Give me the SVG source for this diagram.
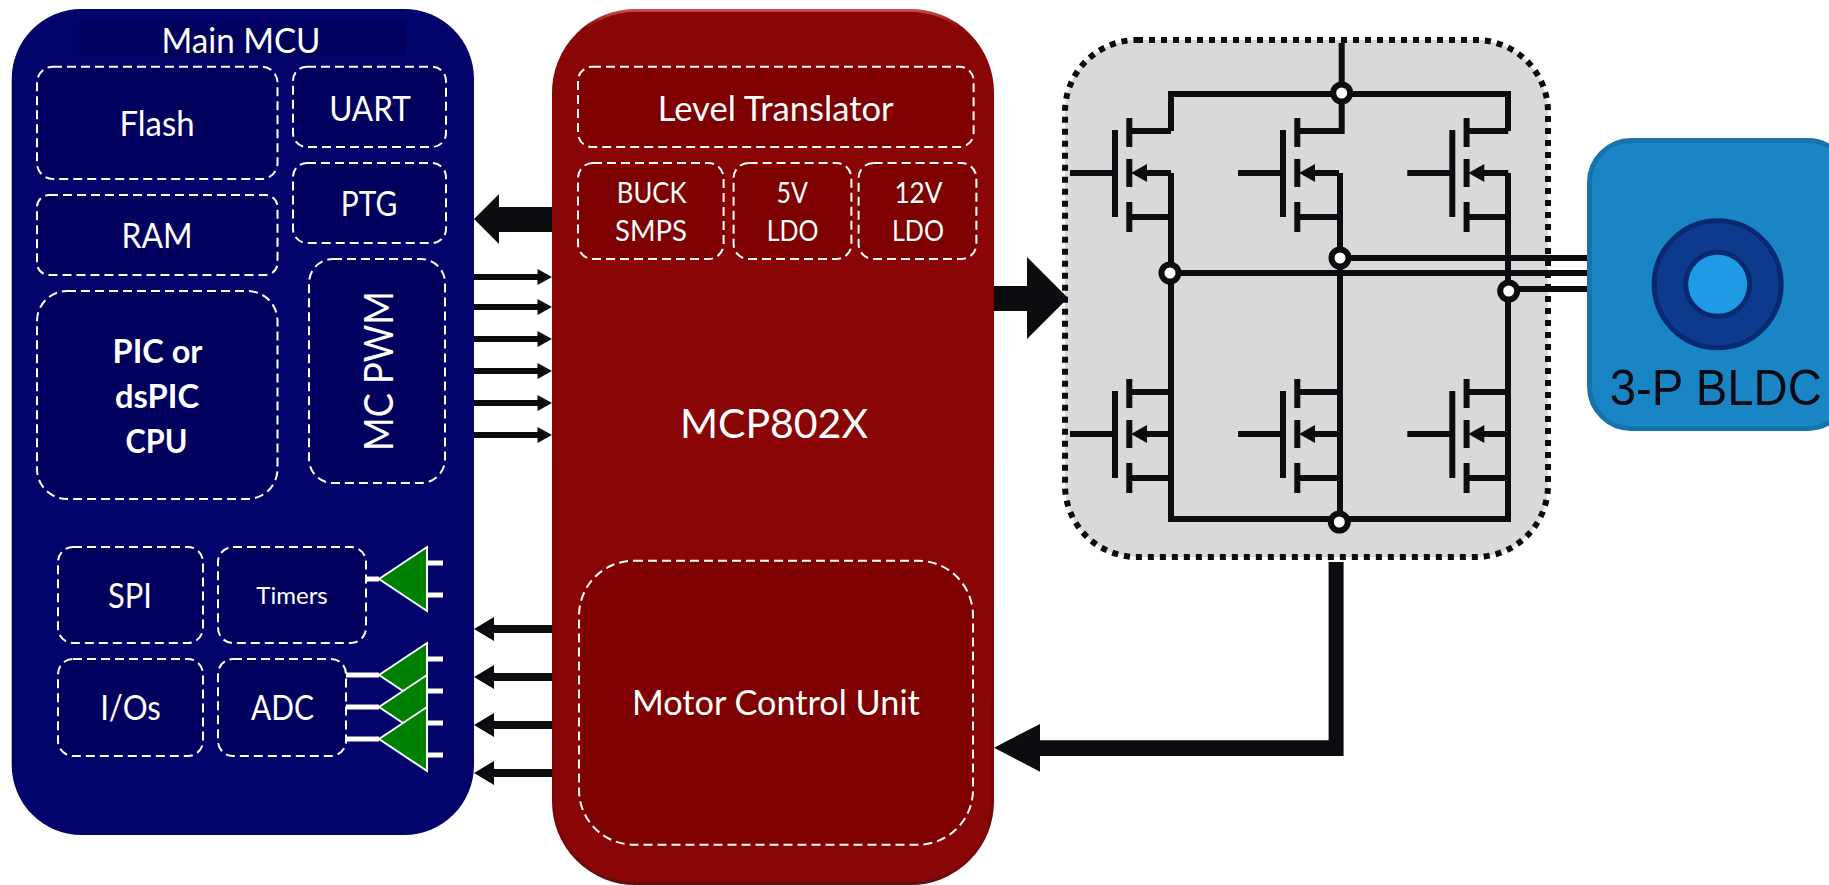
<svg xmlns="http://www.w3.org/2000/svg" xmlns:xlink="http://www.w3.org/1999/xlink" width="1829" height="885" viewBox="0 0 1829 885">
<style>
.t{font-family:"Lato","Open Sans",sans-serif;fill:#fff;text-anchor:middle;font-size:34px}
.b{font-weight:700;font-size:33px}
.s{font-size:28px}
.box{stroke:#fff;stroke-width:2;stroke-dasharray:9 5}
.blue{fill:#00005f}
.red{fill:#7f0000}
.w{fill:none;stroke:#0b0c10;stroke-width:6}
.k{fill:#0b0c10}
.n{fill:#fff;stroke:#0b0c10;stroke-width:6}
.stub{fill:none;stroke:#fff;stroke-width:5}
.tri{fill:#008000;stroke:#fff;stroke-width:2}
</style>
<defs>
<linearGradient id="bevel" x1="0" y1="0" x2="0" y2="1">
<stop offset="0" stop-color="#c84848"/><stop offset="0.02" stop-color="#8a0606"/><stop offset="0.97" stop-color="#7c0404"/><stop offset="1" stop-color="#5c1010"/>
</linearGradient>
<g id="fet">
<path class="w" d="M-45 0H0M0 -43V44M14.300 -55V-26M14.300 -14V14M14.300 29V59M14.300 -42H56M25 0H56M14.300 44H56"/>
<path class="k" d="M16 0L32 -9V9Z"/>
</g>
<path id="rarr" class="k" d="M474 -3H537.500V-8L552 0L537.500 8V3H474Z"/>
<path id="larr" class="k" d="M474 0L494 -12V-4H552V4H494V12Z"/>
</defs>

<g id="main-mcu">
<rect x="11.700" y="9" width="462.300" height="826" rx="70" fill="#03036c"/>
<rect class="blue" x="77.500" y="22" width="328.500" height="35" rx="3"/>
<text class="t" x="241" y="52.500" textLength="159" lengthAdjust="spacingAndGlyphs">Main MCU</text>
</g>
<g id="flash"><rect class="box blue" x="37" y="66.700" width="240.500" height="112.300" rx="16"/><text class="t" x="157" y="135.500" textLength="75" lengthAdjust="spacingAndGlyphs">Flash</text></g>
<g id="uart"><rect class="box blue" x="293" y="66.700" width="153" height="80.300" rx="14"/><text class="t" x="370" y="120.500" textLength="81.700" lengthAdjust="spacingAndGlyphs">UART</text></g>
<g id="ptg"><rect class="box blue" x="293" y="163" width="153" height="80" rx="14"/><text class="t" x="369" y="216" textLength="56.500" lengthAdjust="spacingAndGlyphs">PTG</text></g>
<g id="ram"><rect class="box blue" x="37" y="195" width="240.500" height="80" rx="12"/><text class="t" x="157" y="247.500" textLength="71" lengthAdjust="spacingAndGlyphs">RAM</text></g>
<g id="cpu"><rect class="box blue" x="37" y="291" width="240.500" height="208" rx="30"/>
<text class="t b" x="157.500" y="363" textLength="90" lengthAdjust="spacingAndGlyphs">PIC or</text>
<text class="t b" x="157" y="407.500" textLength="84" lengthAdjust="spacingAndGlyphs">dsPIC</text>
<text class="t b" x="156.600" y="452.500" textLength="62" lengthAdjust="spacingAndGlyphs">CPU</text></g>
<g id="mc-pwm"><rect class="box blue" x="309" y="259" width="136" height="224" rx="24"/><text class="t" style="font-size:41px" transform="translate(393 371) rotate(-90)" textLength="160" lengthAdjust="spacingAndGlyphs">MC PWM</text></g>
<g id="spi"><rect class="box blue" x="58" y="547" width="145" height="96" rx="15"/><text class="t" x="130" y="608" textLength="44" lengthAdjust="spacingAndGlyphs">SPI</text></g>
<g id="timers"><rect class="box blue" x="218" y="547" width="148" height="96" rx="15"/><text class="t" style="font-size:24px" x="292" y="604" textLength="71.500" lengthAdjust="spacingAndGlyphs">Timers</text></g>
<g id="ios"><rect class="box blue" x="58" y="659" width="145" height="97" rx="15"/><text class="t" x="130.500" y="720" textLength="60.700" lengthAdjust="spacingAndGlyphs">I/Os</text></g>
<g id="adc"><rect class="box blue" x="218" y="659" width="128" height="97" rx="15"/><text class="t" x="282.500" y="720" textLength="63" lengthAdjust="spacingAndGlyphs">ADC</text></g>

<g id="comparator-timers">
<path class="stub" d="M366 579H379M427 563H443M427 595H443"/>
<path class="tri" d="M379 579L427 547V611Z"/>
</g>
<g id="comparators-adc">
<path class="stub" d="M346 675H379M346 707H379M346 739H379M427 659H443M427 691H443M427 723H443M427 755H443"/>
<path class="tri" d="M379 675L427 643V707Z"/>
<path class="tri" d="M379 707L427 675V739Z"/>
<path class="tri" d="M379 739L427 707V771Z"/>
</g>

<g id="mcp802x">
<rect x="553.500" y="10.500" width="439" height="873" rx="82" fill="#8a0505" stroke="url(#bevel)" stroke-width="3"/>
<text class="t" style="font-size:41px" x="774" y="437.500" textLength="188" lengthAdjust="spacingAndGlyphs">MCP802X</text>
</g>
<g id="level-translator"><rect class="box red" x="578" y="66.700" width="395.600" height="80.300" rx="14"/><text class="t" x="775.700" y="120.500" textLength="236" lengthAdjust="spacingAndGlyphs">Level Translator</text></g>
<g id="buck"><rect class="box red" x="578" y="163" width="145.600" height="96" rx="15"/>
<text class="t s" x="651.600" y="202.500" textLength="69.600" lengthAdjust="spacingAndGlyphs">BUCK</text>
<text class="t s" x="651" y="241" textLength="72" lengthAdjust="spacingAndGlyphs">SMPS</text></g>
<g id="ldo-5v"><rect class="box red" x="733.600" y="163" width="117.800" height="96" rx="15"/>
<text class="t s" x="792.200" y="202.500" textLength="31.400" lengthAdjust="spacingAndGlyphs">5V</text>
<text class="t s" x="792.700" y="241" textLength="51.800" lengthAdjust="spacingAndGlyphs">LDO</text></g>
<g id="ldo-12v"><rect class="box red" x="858.600" y="163" width="117.800" height="96" rx="15"/>
<text class="t s" x="918.400" y="202.500" textLength="48" lengthAdjust="spacingAndGlyphs">12V</text>
<text class="t s" x="918" y="241" textLength="52" lengthAdjust="spacingAndGlyphs">LDO</text></g>
<g id="motor-control-unit"><rect class="box red" x="579" y="560.700" width="394" height="284" rx="55"/><text class="t" x="775.900" y="715" textLength="288" lengthAdjust="spacingAndGlyphs">Motor Control Unit</text></g>

<g id="bldc">
<rect x="1589.500" y="140.500" width="260" height="288" rx="42" fill="#1985c4" stroke="#1673ab" stroke-width="5"/>
<circle cx="1717.700" cy="284.300" r="63.500" fill="#0d3a8c" stroke="#08296f" stroke-width="5"/>
<circle cx="1717.700" cy="284.300" r="32" fill="#1f9be6" stroke="#08296f" stroke-width="5"/>
<text x="1715.800" y="404.500" font-family="'Liberation Sans', Arial, sans-serif" font-size="49.500" fill="#0a0a14" text-anchor="middle" textLength="212" lengthAdjust="spacingAndGlyphs">3-P BLDC</text>
</g>

<g id="bridge">
<rect x="1065" y="40" width="483" height="517" rx="72" fill="#d9d9d9" stroke="#0b0c10" stroke-width="6" stroke-dasharray="6 6"/>
<use xlink:href="#fet" href="#fet" x="1115" y="173"/>
<use xlink:href="#fet" href="#fet" x="1283" y="173"/>
<use xlink:href="#fet" href="#fet" x="1452.300" y="173"/>
<use xlink:href="#fet" href="#fet" x="1115" y="434"/>
<use xlink:href="#fet" href="#fet" x="1283" y="434"/>
<use xlink:href="#fet" href="#fet" x="1452.300" y="434"/>
</g>

<g id="connectors">
<path class="k" d="M474 219L499 194V207H552V232H499V244Z"/>
<use xlink:href="#rarr" href="#rarr" y="277"/>
<use xlink:href="#rarr" href="#rarr" y="307"/>
<use xlink:href="#rarr" href="#rarr" y="339"/>
<use xlink:href="#rarr" href="#rarr" y="371"/>
<use xlink:href="#rarr" href="#rarr" y="403"/>
<use xlink:href="#rarr" href="#rarr" y="435"/>
<use xlink:href="#larr" href="#larr" y="629"/>
<use xlink:href="#larr" href="#larr" y="677"/>
<use xlink:href="#larr" href="#larr" y="725"/>
<use xlink:href="#larr" href="#larr" y="773"/>
<path class="k" d="M994 286H1027V257L1068 298L1027 339V311H994Z"/>
<path class="k" d="M1328.600 562H1343.600V756H1040V771.700L994 747.700L1040 724V740.300H1328.600Z"/>
<path class="w" d="M1341.700 43V131H1300M1171 131V94H1508V131M1171 173V519H1508V173M1340 173V519M1171 273H1587M1340 258H1587M1508 289H1587"/>
<circle class="n" cx="1341.700" cy="93" r="8.500"/>
<circle class="n" cx="1170" cy="273" r="8.500"/>
<circle class="n" cx="1340" cy="258" r="8.500"/>
<circle class="n" cx="1508.700" cy="291" r="8.500"/>
<circle class="n" cx="1339.300" cy="522" r="8.500"/>
</g>
</svg>
